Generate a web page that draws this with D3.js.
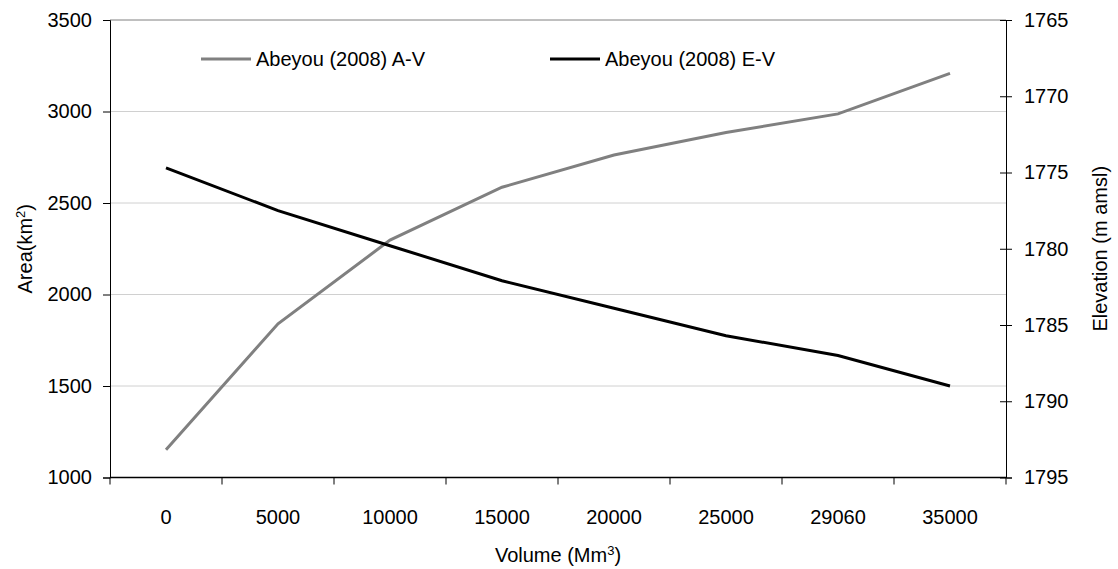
<!DOCTYPE html>
<html>
<head>
<meta charset="utf-8">
<script src="https://cdn.jsdelivr.net/npm/d3@7"></script>
<style>
  body { margin: 0; background: #fff; }
  text { font-family: "Liberation Sans", Arial, sans-serif; fill: #000; }
</style>
</head>
<body>
<svg id="chart" width="1118" height="569"></svg>
<script>
// Volume categories (Mm3)
const volumes = ["0", "5000", "10000", "15000", "20000", "25000", "29060", "35000"];
// Area (km2) - Abeyou (2008) A-V
const areaValues = [1152, 1840, 2297, 2586, 2762, 2885, 2987, 3208];
// Elevation (m amsl) - Abeyou (2008) E-V
const elevValues = [1774.7, 1777.5, 1779.8, 1782.1, 1783.9, 1785.7, 1787.0, 1789.0];
const areaTicks = [1000, 1500, 2000, 2500, 3000, 3500];
const elevTicks = [1765, 1770, 1775, 1780, 1785, 1790, 1795];

const svg = d3.select("#chart");
const margin = { top: 20, right: 112, bottom: 91.5, left: 110 };
const W = 1118, H = 569;
const width = W - margin.left - margin.right;
const height = H - margin.top - margin.bottom;

const g = svg.append("g").attr("transform", `translate(${margin.left},${margin.top})`);

// Scales
const x = d3.scaleBand().domain(volumes).range([0, width]).padding(0);
const yArea = d3.scaleLinear().domain([1000, 3500]).range([height, 0]);
const yElev = d3.scaleLinear().domain([1765, 1795]).range([0, height]);

// Gridlines
g.selectAll(".grid")
  .data(areaTicks.filter((d) => d > 1000 && d < 3500))
  .enter()
  .append("line")
  .attr("x1", 0)
  .attr("x2", width)
  .attr("y1", (d) => yArea(d))
  .attr("y2", (d) => yArea(d))
  .attr("stroke", "#d0d0d0")
  .attr("stroke-width", 1);

// Top border
g.append("line")
  .attr("x1", 0).attr("x2", width)
  .attr("y1", yArea(3500)).attr("y2", yArea(3500))
  .attr("stroke", "#808080").attr("stroke-width", 1);

// Left axis
const leftAxis = g.append("g")
  .call(d3.axisLeft(yArea).tickValues(areaTicks).tickFormat(d3.format("d")).tickSize(7).tickPadding(11));
leftAxis.select(".domain").attr("stroke", "#000");
leftAxis.selectAll("text").style("font-size", "20px").attr("font-family", "Liberation Sans, Arial, sans-serif");

// Right axis (ticks cross the line)
const rightAxis = g.append("g")
  .attr("transform", `translate(${width},0)`)
  .call(d3.axisRight(yElev).tickValues(elevTicks).tickFormat(d3.format("d")).tickSize(6).tickPadding(12));
rightAxis.selectAll(".tick line").attr("x1", -6);
rightAxis.selectAll("text").style("font-size", "20px").attr("font-family", "Liberation Sans, Arial, sans-serif");

// Bottom axis: ticks between categories
const bottom = g.append("g").attr("transform", `translate(0,${height})`);
bottom.append("line")
  .attr("x1", 0).attr("x2", width)
  .attr("stroke", "#000").attr("stroke-width", 1.5);
const bounds = volumes.map((v) => x(v)).concat([width]);
bottom.selectAll(".tk")
  .data(bounds)
  .enter()
  .append("line")
  .attr("x1", (d) => d).attr("x2", (d) => d)
  .attr("y1", 0).attr("y2", 7)
  .attr("stroke", "#000");
bottom.selectAll(".lbl")
  .data(volumes)
  .enter()
  .append("text")
  .attr("x", (d) => x(d) + x.bandwidth() / 2)
  .attr("y", 46)
  .attr("text-anchor", "middle")
  .style("font-size", "20px")
  .text((d) => d);

// Lines
const cx = (i) => x(volumes[i]) + x.bandwidth() / 2;
const areaLine = d3.line().x((d, i) => cx(i)).y((d) => yArea(d));
const elevLine = d3.line().x((d, i) => cx(i)).y((d) => yElev(d));

g.append("path")
  .datum(areaValues)
  .attr("d", areaLine)
  .attr("fill", "none")
  .attr("stroke", "#808080")
  .attr("stroke-width", 3);

g.append("path")
  .datum(elevValues)
  .attr("d", elevLine)
  .attr("fill", "none")
  .attr("stroke", "#000")
  .attr("stroke-width", 3);

// Legend
const legend = [
  { label: "Abeyou (2008) A-V", color: "#808080", x: 201 },
  { label: "Abeyou (2008) E-V", color: "#000", x: 550 }
];
legend.forEach((l) => {
  svg.append("line")
    .attr("x1", l.x).attr("x2", l.x + 50)
    .attr("y1", 59).attr("y2", 59)
    .attr("stroke", l.color).attr("stroke-width", 3);
  svg.append("text")
    .attr("x", l.x + 55).attr("y", 66)
    .style("font-size", "20px")
    .text(l.label);
});

// Axis titles
const xt = svg.append("text")
  .attr("x", margin.left + width / 2)
  .attr("y", 562)
  .attr("text-anchor", "middle")
  .style("font-size", "20px");
xt.append("tspan").text("Volume (Mm");
xt.append("tspan").attr("baseline-shift", "super").style("font-size", "13px").text("3");
xt.append("tspan").text(")");

const yt = svg.append("text")
  .attr("transform", `translate(32,${margin.top + height / 2}) rotate(-90)`)
  .attr("text-anchor", "middle")
  .style("font-size", "20px");
yt.append("tspan").text("Area(km");
yt.append("tspan").attr("baseline-shift", "super").style("font-size", "13px").text("2");
yt.append("tspan").text(")");

svg.append("text")
  .attr("transform", `translate(1107,${margin.top + height / 2}) rotate(-90)`)
  .attr("text-anchor", "middle")
  .style("font-size", "20px")
  .text("Elevation (m amsl)");
</script>
</body>
</html>
